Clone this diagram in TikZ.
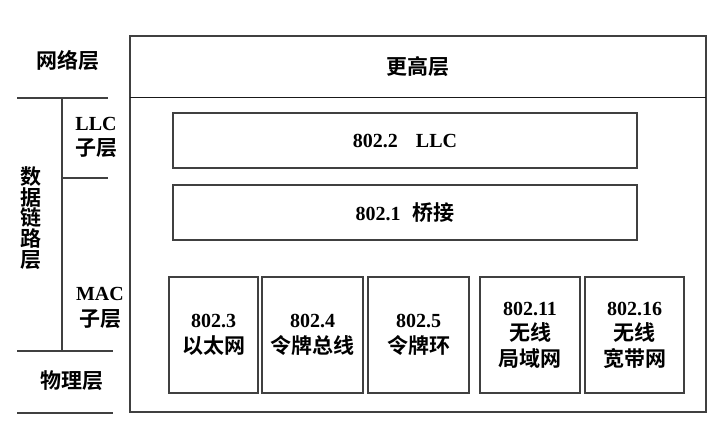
\documentclass[tikz,border=0pt]{standalone}
\usepackage{fontspec}
\setmainfont{Liberation Serif}
\newfontfamily\cjk{Noto Sans CJK SC}[Scale=1.05,UprightFont=* Bold,BoldFont=* Bold]
\begin{document}
\begin{tikzpicture}[x=1pt,y=-1pt,
  ln/.style={line width=1.3pt,draw=black!75},
  bx/.style={ln,rectangle,inner sep=0pt,outer sep=0pt,align=center,font=\fontsize{20}{25.5}\selectfont},
  lbl/.style={inner sep=0pt,align=center,font=\fontsize{20}{25.5}\selectfont}]
\useasboundingbox (0,0) rectangle (725,425);
% outer frame
\node[bx,minimum width=576pt,minimum height=376pt] (outer) at (418,224) {};
\draw[line width=1.6pt,black!90] (outer.west |- 0,97.5) coordinate (dl) -- (outer.east |- 0,97.5) coordinate (dr);
\node[lbl] (higher) at (418,67) {\cjk 更高层};
% inner boxes
\node[bx,minimum width=464pt,minimum height=55pt] (llc) at (405,140.5) {\bfseries 802.2\hspace{0.9em}LLC};
\node[bx,minimum width=464pt,minimum height=55pt] (bridge) at (405,212.5) {\bfseries 802.1\hspace{0.6em}{\cjk 桥接}};
\node[bx,minimum width=89pt,minimum height=116pt] (b1) at (213.5,335) {\bfseries 802.3\\{\cjk 以太网}};
\node[bx,minimum width=101pt,minimum height=116pt] (b2) at (312.5,335) {\bfseries 802.4\\{\cjk 令牌总线}};
\node[bx,minimum width=101pt,minimum height=116pt] (b3) at (418.5,335) {\bfseries 802.5\\{\cjk 令牌环}};
\node[bx,minimum width=100pt,minimum height=116pt] (b4) at (530,335) {\bfseries 802.11\\{\cjk 无线}\\{\cjk 局域网}};
\node[bx,minimum width=99pt,minimum height=116pt] (b5) at (634.5,335) {\bfseries 802.16\\{\cjk 无线}\\{\cjk 宽带网}};
% left labels
\node[lbl] (net) at (68,60) {\cjk 网络层};
\node[lbl] (llcsub) at (96,137.5) {\bfseries LLC\\{\cjk 子层}};
\node[lbl] (macsub) at (100,308) {\bfseries MAC\\{\cjk 子层}};
\node[lbl,font=\fontsize{20}{20.8}\selectfont] (dll) at (31,218) {\cjk 数\\\cjk 据\\\cjk 链\\\cjk 路\\\cjk 层};
\node[lbl] (phy) at (72,381) {\cjk 物理层};
% left rules
\coordinate (l1a) at (17,98);  \coordinate (l1b) at (108,98);
\coordinate (va) at (62,98);   \coordinate (vb) at (62,351);
\coordinate (l2a) at (62,178); \coordinate (l2b) at (108,178);
\coordinate (l3a) at (17,351); \coordinate (l3b) at (113,351);
\coordinate (l4a) at (17,413); \coordinate (l4b) at (113,413);
\draw[ln] (l1a) -- (l1b);
\draw[ln] (va) -- (vb);
\draw[ln] (l2a) -- (l2b);
\draw[ln] (l3a) -- (l3b);
\draw[ln] (l4a) -- (l4b);
\end{tikzpicture}
\end{document}
